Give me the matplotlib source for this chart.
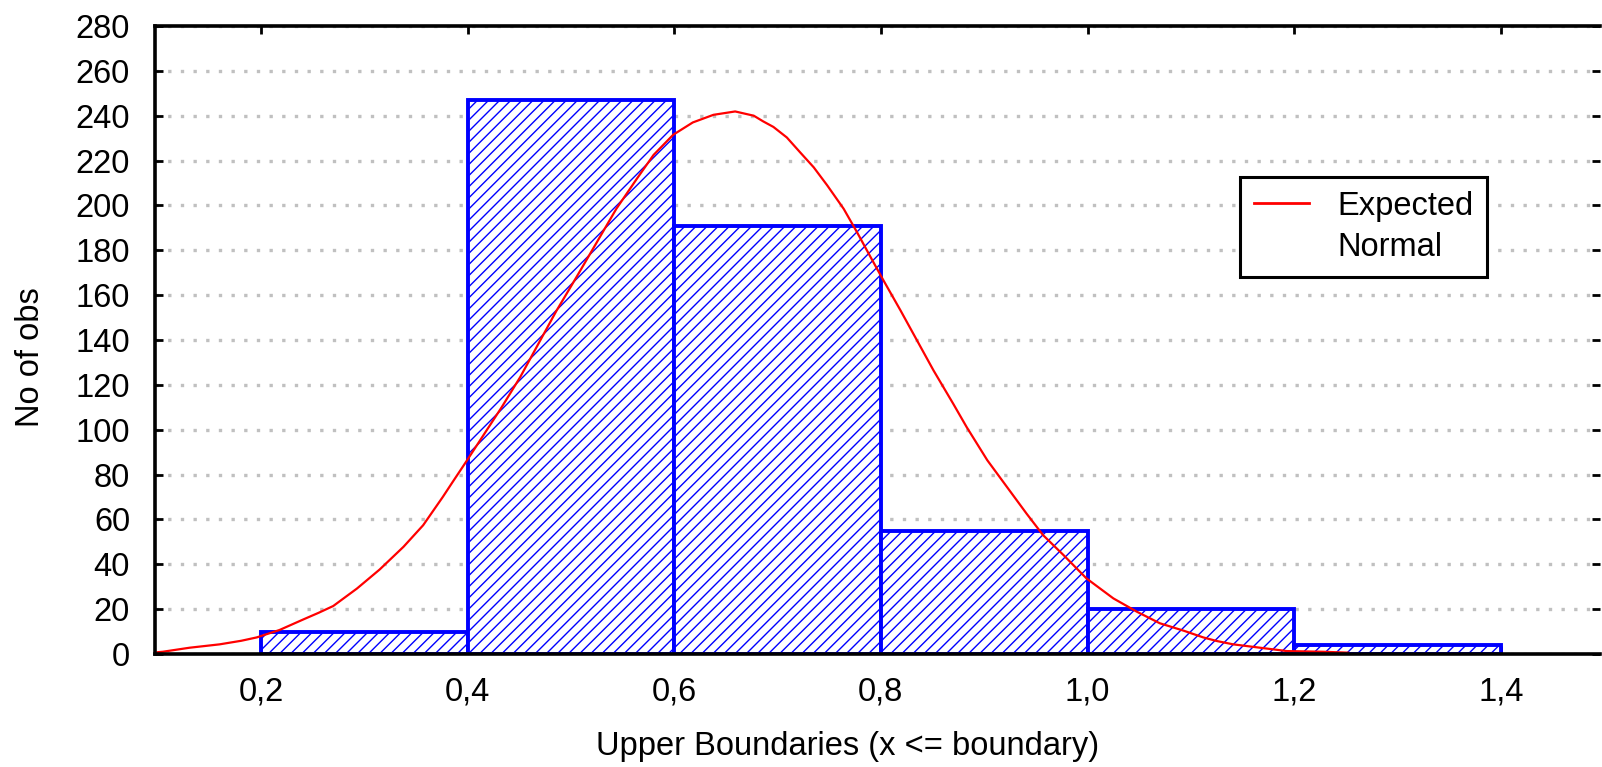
import matplotlib
matplotlib.use("Agg")
import matplotlib.pyplot as plt
from matplotlib.lines import Line2D

# histogram bins (left edge, width) and counts
bin_left = [0.2, 0.4, 0.6, 0.8, 1.0, 1.2]
bin_width = 0.2
counts = [10, 247, 191, 55, 20, 4]

# expected normal curve
curve_x = [0.100, 0.105, 0.131, 0.160, 0.181, 0.196, 0.218, 0.241, 0.256, 0.270,
           0.293, 0.315, 0.338, 0.357, 0.376, 0.386, 0.399, 0.433, 0.451, 0.467,
           0.486, 0.506, 0.525, 0.544, 0.564, 0.580, 0.599, 0.618, 0.638, 0.659,
           0.677, 0.686, 0.696, 0.709, 0.722, 0.735, 0.748, 0.764, 0.777, 0.790,
           0.802, 0.819, 0.835, 0.851, 0.870, 0.883, 0.903, 0.922, 0.941, 0.957,
           0.977, 0.999, 1.025, 1.048, 1.070, 1.093, 1.112, 1.125, 1.141, 1.167,
           1.193, 1.228, 1.252]
curve_y = [0.8, 1.0, 2.8, 4.3, 5.9, 7.4, 10.7, 15.4, 18.4, 21.4,
           29.2, 37.7, 47.8, 57.4, 70.0, 77.0, 86.0, 110.0, 123.5, 137.0,
           153.0, 168.5, 183.5, 198.5, 212.0, 222.5, 231.5, 237.0, 240.4, 241.9,
           240.0, 237.5, 235.0, 230.3, 223.6, 217.0, 209.0, 198.5, 188.0, 177.0,
           167.0, 153.2, 139.8, 126.4, 111.6, 101.2, 86.4, 74.5, 62.6, 53.0,
           44.0, 33.7, 24.8, 18.8, 13.7, 10.4, 7.4, 5.8, 4.3, 2.8,
           1.3, 1.0, 0.6]

x_ticks = [0.2, 0.4, 0.6, 0.8, 1.0, 1.2, 1.4]
x_ticklabels = ["0,2", "0,4", "0,6", "0,8", "1,0", "1,2", "1,4"]
y_ticks = list(range(0, 281, 20))

FS = 23.5
plt.rc("font", family=["Liberation Sans", "DejaVu Sans"], size=FS)
plt.rc("hatch", linewidth=1.0)

fig = plt.figure(figsize=(16.02, 7.67), dpi=100)
ax = fig.add_axes([155 / 1602, 1 - 654 / 767, 1445 / 1602, 628 / 767])

ax.bar(bin_left, counts, width=bin_width, align="edge",
       facecolor="white", edgecolor="#0000FF", hatch="///",
       linewidth=2.8, zorder=3)

ax.plot(curve_x, curve_y, color="#FF0000", linewidth=1.6, zorder=4)

ax.set_xlim(0.0975, 1.496)
ax.set_ylim(0, 280)
ax.set_xticks(x_ticks)
ax.set_xticklabels(x_ticklabels)
ax.set_yticks(y_ticks)

ax.tick_params(axis="both", direction="in", length=6, width=2,
               top=True, right=True, labelsize=FS)
ax.tick_params(axis="y", pad=18)
ax.tick_params(axis="x", pad=16)

for side in ["left", "top", "bottom"]:
    ax.spines[side].set_linewidth(2.6)
    ax.spines[side].set_zorder(5)
ax.spines["right"].set_visible(False)

ax.set_axisbelow(True)
ax.grid(axis="y", color="#C0C0C0", linestyle=(0, (1, 2.8)), linewidth=2.4)

fig.text(848 / 1602, 1 - 746 / 767, "Upper Boundaries (x <= boundary)",
         ha="center", va="center", fontsize=FS)
fig.text(31 / 1602, 1 - 357 / 767, "No of obs", rotation=90,
         ha="center", va="center", fontsize=FS)

handles = [Line2D([], [], color="#FF0000", linewidth=2),
           Line2D([], [], color="none")]
leg = ax.legend(handles, ["Expected", "Normal"],
                loc="upper left", bbox_to_anchor=(1240 / 1602, 1 - 177 / 767),
                bbox_transform=fig.transFigure,
                fancybox=False, framealpha=1, edgecolor="black",
                borderpad=0.42, labelspacing=0.32, handlelength=1.7,
                handletextpad=0.85, fontsize=FS, borderaxespad=0)
leg.get_frame().set_linewidth(2.2)
leg.set_zorder(6)

fig.savefig("out.png", dpi=100)
